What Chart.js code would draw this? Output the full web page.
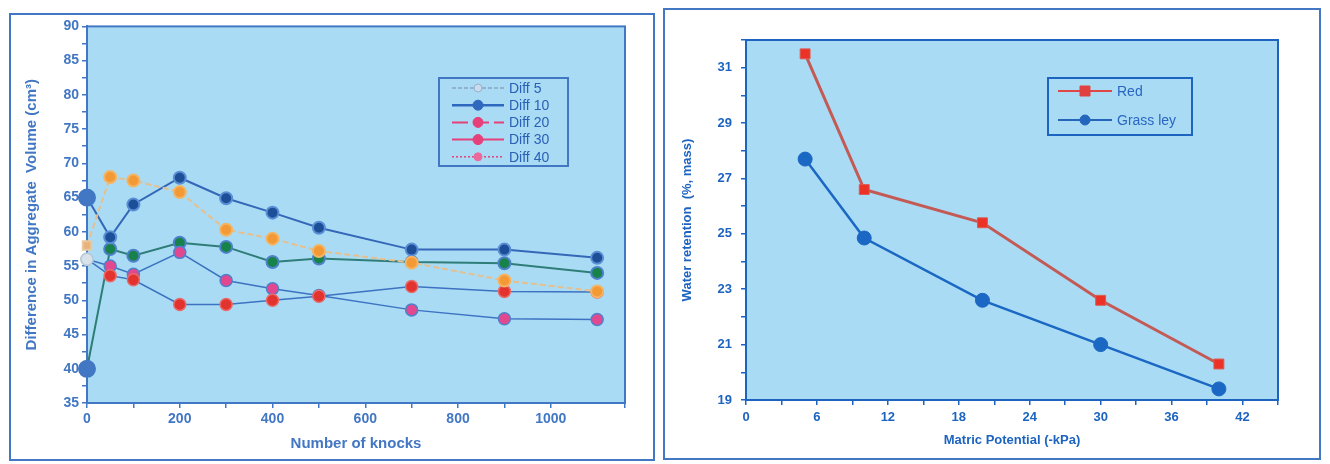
<!DOCTYPE html>
<html>
<head>
<meta charset="utf-8">
<script src="https://cdn.jsdelivr.net/npm/chart.js@4.4.1/dist/chart.umd.min.js"></script>
<style>
  html, body { margin: 0; padding: 0; background: #fff; width: 1330px; height: 464px; overflow: hidden; }
  .panel { position: absolute; border: 2px solid #4277c4; background: #fff; }
  #panelKnocks { left: 9px; top: 13px; width: 642px; height: 444px; }
  #panelRetention { left: 663px; top: 8px; width: 654px; height: 448px; }
  canvas { display: block; }
</style>
</head>
<body>
<div class="panel" id="panelKnocks"><canvas id="chartKnocks" width="642" height="444"></canvas></div>
<div class="panel" id="panelRetention"><canvas id="chartRetention" width="654" height="448"></canvas></div>
<script>
// --- left chart data
const knocks = [0, 50, 100, 200, 300, 400, 500, 700, 900, 1100];
const diff5 = [58, 68, 67.5, 65.8, 60.3, 59, 57.2, 55.5, 52.9, 51.3];
const diff10 = [65, 59.2, 64, 67.9, 64.9, 62.8, 60.6, 57.4, 57.4, 56.2];
const diff20 = [56, 53.6, 53, 49.4, 49.4, 50, 50.6, 52, 51.3, 51.2];
const diff30 = [56, 55, 53.8, 57, 52.9, 51.7, 50.7, 48.6, 47.3, 47.2];
const diff40 = [40, 57.5, 56.5, 58.4, 57.8, 55.6, 56.1, 55.6, 55.4, 54];
const diffLabels = ['Diff 5', 'Diff 10', 'Diff 20', 'Diff 30', 'Diff 40'];
const knockTicks = [0, 200, 400, 600, 800, 1000];
const volumeTicks = [35, 40, 45, 50, 55, 60, 65, 70, 75, 80, 85, 90];

// --- right chart data
const matric = [5, 10, 20, 30, 40];
const redSoil = [31.5, 26.6, 25.4, 22.6, 20.3];
const grassLey = [27.7, 24.85, 22.6, 21.0, 19.4];
const retentionLabels = ['Red', 'Grass ley'];
const matricTicks = [0, 6, 12, 18, 24, 30, 36, 42];
const retentionTicks = [19, 21, 23, 25, 27, 29, 31];

const BLUE = '#4277c4';
const PLOT_BG = '#a9dcf4';

function toPoints(xs, ys) {
    return xs.map((x, i) => ({ x: x, y: ys[i] }));
}

function firstPoint(first, rest) {
    return knocks.map((k, i) => i === 0 ? first : rest);
}

// fond bleu + cadre de la zone de tracé
const plotFrame = {
    id: 'plotFrame',
    beforeDatasetsDraw(chart, args, opts) {
        const { ctx, chartArea: a } = chart;
        ctx.save();
        ctx.fillStyle = opts.background;
        ctx.fillRect(a.left, a.top, a.right - a.left, a.bottom - a.top);
        ctx.strokeStyle = opts.color;
        ctx.lineWidth = 2;
        ctx.strokeRect(a.left, a.top, a.right - a.left, a.bottom - a.top);
        ctx.restore();
    }
};

function drawMarker(ctx, item, x, y) {
    ctx.fillStyle = item.fill;
    ctx.strokeStyle = item.stroke || item.fill;
    ctx.lineWidth = 1;
    ctx.beginPath();
    if (item.marker === 'rect') {
        ctx.rect(x - item.radius, y - item.radius, item.radius * 2, item.radius * 2);
    } else {
        ctx.arc(x, y, item.radius, 0, Math.PI * 2);
    }
    ctx.fill();
    ctx.stroke();
}

// légende encadrée dans la zone de tracé
const boxLegend = {
    id: 'boxLegend',
    afterDraw(chart, args, opts) {
        const ctx = chart.ctx;
        ctx.save();
        ctx.strokeStyle = opts.frame;
        ctx.lineWidth = 2;
        ctx.strokeRect(opts.x, opts.y, opts.width, opts.height);
        ctx.font = opts.font;
        ctx.textBaseline = 'middle';
        opts.items.forEach((item, i) => {
            const y = opts.y + opts.firstRow + i * opts.rowGap;
            const x0 = opts.x + opts.iconLeft;
            ctx.strokeStyle = item.color;
            ctx.lineWidth = item.lineWidth;
            ctx.setLineDash(item.dash || []);
            ctx.beginPath();
            ctx.moveTo(x0, y);
            ctx.lineTo(x0 + opts.iconWidth, y);
            ctx.stroke();
            ctx.setLineDash([]);
            drawMarker(ctx, item, x0 + opts.iconWidth / 2, y);
            ctx.fillStyle = opts.textColor;
            ctx.fillText(item.label, x0 + opts.iconWidth + opts.textGap, y + 1);
        });
        ctx.restore();
    }
};

function axis(min, max, step, labelled, color, font, extra) {
    return Object.assign({
        type: 'linear',
        min: min,
        max: max,
        ticks: {
            stepSize: step,
            autoSkip: false,
            maxRotation: 0,
            color: color,
            font: font,
            callback: v => labelled.includes(v) ? String(v) : ''
        },
        grid: { drawOnChartArea: false, drawTicks: true, tickLength: 5, color: color, lineWidth: 1.5 },
        border: { display: true, color: color, width: 2 }
    }, extra);
}

const knockFont = { family: 'Arial', size: 14, weight: 'bold' };
const knockAxisTitle = { family: 'Arial', size: 15, weight: 'bold' };

new Chart(document.getElementById('chartKnocks'), {
    type: 'line',
    data: {
        datasets: [
            {
                label: diffLabels[0], data: toPoints(knocks, diff5),
                borderColor: '#e6bf8e', borderWidth: 2, borderDash: [6, 3],
                pointStyle: firstPoint('rect', 'circle'),
                pointBackgroundColor: firstPoint('#e8b27a', '#f39a36'),
                pointBorderColor: firstPoint('#e8c8a0', '#f3b464')
            },
            {
                label: diffLabels[1], data: toPoints(knocks, diff10),
                borderColor: '#3567b8', borderWidth: 2,
                pointRadius: firstPoint(8, 6),
                pointBackgroundColor: firstPoint(BLUE, '#1d4f98'),
                pointBorderColor: firstPoint(BLUE, '#5a8fd6')
            },
            {
                label: diffLabels[2], data: toPoints(knocks, diff20),
                borderColor: '#3d72c2', borderWidth: 1.5,
                pointBackgroundColor: firstPoint('#d8e2ea', '#e2332e'),
                pointBorderColor: firstPoint('#b8c8d8', '#e86a6a')
            },
            {
                label: diffLabels[3], data: toPoints(knocks, diff30),
                borderColor: '#3d72c2', borderWidth: 1.5,
                pointBackgroundColor: firstPoint('#d8e2ea', '#e24890'),
                pointBorderColor: firstPoint('#b8c8d8', '#4f80ca')
            },
            {
                label: diffLabels[4], data: toPoints(knocks, diff40),
                borderColor: '#2f7d78', borderWidth: 2,
                pointRadius: firstPoint(8, 6),
                pointBackgroundColor: firstPoint(BLUE, '#17824a'),
                pointBorderColor: firstPoint(BLUE, '#4f80ca')
            }
        ]
    },
    options: {
        responsive: false,
        animation: false,
        clip: false,
        elements: { point: { radius: 6, borderWidth: 2 }, line: { tension: 0 } },
        layout: { padding: { top: 11, right: 28, left: 0, bottom: 0 } },
        scales: {
            x: axis(0, 1160, 100, knockTicks, BLUE, knockFont, {
                title: { display: true, text: 'Number of knocks', color: BLUE, font: knockAxisTitle, padding: { top: 0, bottom: 6 } },
                afterFit: s => { s.height = 56; }
            }),
            y: axis(35, 90, 2.5, volumeTicks, BLUE, knockFont, {
                title: { display: true, text: 'Difference in Aggregate  Volume (cm³)', color: BLUE, font: knockAxisTitle, padding: { top: 12, bottom: 0 } },
                afterFit: s => { s.width = 76; }
            })
        },
        plugins: {
            legend: { display: false },
            tooltip: { enabled: false },
            plotFrame: { background: PLOT_BG, color: BLUE },
            boxLegend: {
                x: 428, y: 63, width: 129, height: 88,
                firstRow: 10, rowGap: 17.2, iconLeft: 13, iconWidth: 52, textGap: 5,
                frame: BLUE, textColor: '#2a60b6', font: '14px Arial',
                items: [
                    { label: diffLabels[0], color: '#8ca4c6', lineWidth: 1.5, dash: [4, 2], marker: 'circle', radius: 4, fill: '#c9dcec', stroke: '#9ab0cc' },
                    { label: diffLabels[1], color: '#2f68bf', lineWidth: 2.5, marker: 'circle', radius: 5, fill: '#2f68bf' },
                    { label: diffLabels[2], color: '#e5407a', lineWidth: 2, dash: [16, 5], marker: 'circle', radius: 5, fill: '#e5407a' },
                    { label: diffLabels[3], color: '#e5407a', lineWidth: 2, marker: 'circle', radius: 5, fill: '#e5407a' },
                    { label: diffLabels[4], color: '#e5407a', lineWidth: 1.5, dash: [2, 2], marker: 'circle', radius: 4, fill: '#ec6a9a' }
                ]
            }
        }
    },
    plugins: [plotFrame, boxLegend]
});

const R_BLUE = '#1c64c0';
const retentionFont = { family: 'Arial', size: 13, weight: 'bold' };

new Chart(document.getElementById('chartRetention'), {
    type: 'line',
    data: {
        datasets: [
            {
                label: retentionLabels[0], data: toPoints(matric, redSoil),
                borderColor: '#c45a55', borderWidth: 3,
                pointStyle: 'rect', pointRadius: 7,
                pointBackgroundColor: '#ec3226', pointBorderColor: '#dc5a50', pointBorderWidth: 1
            },
            {
                label: retentionLabels[1], data: toPoints(matric, grassLey),
                borderColor: '#1b67c4', borderWidth: 2.5,
                pointStyle: 'circle', pointRadius: 7,
                pointBackgroundColor: '#1b67c4', pointBorderColor: '#1b67c4', pointBorderWidth: 1
            }
        ]
    },
    options: {
        responsive: false,
        animation: false,
        clip: false,
        elements: { line: { tension: 0 } },
        layout: { padding: { top: 30, right: 41, left: 0, bottom: 0 } },
        scales: {
            x: axis(0, 45, 3, matricTicks, R_BLUE, retentionFont, {
                ticks: { stepSize: 3, autoSkip: false, maxRotation: 0, color: R_BLUE, font: retentionFont, padding: 5,
                         callback: v => matricTicks.includes(v) ? String(v) : '' },
                title: { display: true, text: 'Matric Potential (-kPa)', color: R_BLUE, font: retentionFont, padding: { top: 0, bottom: 10 } },
                afterFit: s => { s.height = 58; }
            }),
            y: axis(19, 32, 1, retentionTicks, R_BLUE, retentionFont, {
                ticks: { stepSize: 1, autoSkip: false, color: R_BLUE, font: retentionFont, padding: 9,
                         callback: v => retentionTicks.includes(v) ? String(v) : '' },
                title: { display: true, text: 'Water retention  (%, mass)', color: R_BLUE, font: retentionFont, padding: { top: 15, bottom: 0 } },
                afterFit: s => { s.width = 81; }
            })
        },
        plugins: {
            legend: { display: false },
            tooltip: { enabled: false },
            plotFrame: { background: PLOT_BG, color: R_BLUE },
            boxLegend: {
                x: 383, y: 68, width: 144, height: 57,
                firstRow: 13, rowGap: 29, iconLeft: 10, iconWidth: 54, textGap: 5,
                frame: R_BLUE, textColor: '#2a66c0', font: '14px Arial',
                items: [
                    { label: retentionLabels[0], color: '#e04848', lineWidth: 2, marker: 'rect', radius: 5, fill: '#e04040' },
                    { label: retentionLabels[1], color: '#2566bd', lineWidth: 2, marker: 'circle', radius: 5, fill: '#2566bd' }
                ]
            }
        }
    },
    plugins: [plotFrame, boxLegend]
});
</script>
</body>
</html>
